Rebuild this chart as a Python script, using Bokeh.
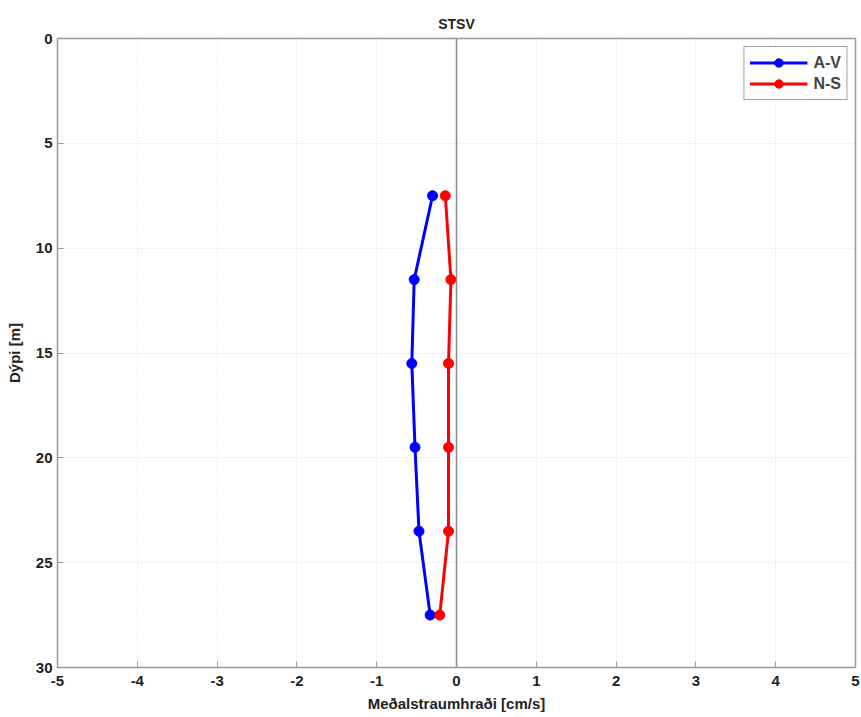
from bokeh.plotting import figure
from bokeh.models import Range1d, Span, FixedTicker, Legend, LegendItem
from bokeh.embed import file_html
from bokeh.resources import INLINE

depth = [7.5, 11.5, 15.5, 19.5, 23.5, 27.5]
av = [-0.30, -0.53, -0.56, -0.52, -0.47, -0.33]
ns = [-0.14, -0.07, -0.10, -0.10, -0.10, -0.21]
x_ticks = [-5, -4, -3, -2, -1, 0, 1, 2, 3, 4, 5]
y_ticks = [0, 5, 10, 15, 20, 25, 30]

FONT = "Liberation Sans"

p = figure(width=861, height=717, output_backend="svg", toolbar_location=None,
           x_range=Range1d(-5, 5), y_range=Range1d(30, 0),
           title="STSV", min_border_left=57, min_border_right=6,
           min_border_bottom=50, min_border_top=38)

p.title.text_font = FONT
p.title.text_font_style = "bold"
p.title.text_font_size = "14px"
p.title.align = "center"
p.title.text_color = "#222222"
p.title.standoff = 14

p.xaxis.ticker = FixedTicker(ticks=x_ticks)
p.yaxis.ticker = FixedTicker(ticks=y_ticks)
p.xaxis.major_label_overrides = {t: str(t) for t in x_ticks}
p.yaxis.major_label_overrides = {t: str(t) for t in y_ticks}
p.xaxis.axis_label = "Meðalstraumhraði [cm/s]"
p.yaxis.axis_label = "Dýpi [m]"
for ax in (p.xaxis[0], p.yaxis[0]):
    ax.axis_label_text_font = FONT
    ax.axis_label_text_font_style = "bold"
    ax.axis_label_text_font_size = "15px"
    ax.axis_label_text_color = "#222222"
    ax.major_label_text_font = FONT
    ax.major_label_text_font_style = "bold"
    ax.major_label_text_font_size = "15px"
    ax.major_label_text_color = "#222222"
    ax.axis_line_color = "#999999"
    ax.major_tick_line_color = "#999999"
    ax.major_tick_in = 6
    ax.major_tick_out = 0
    ax.minor_tick_line_color = None
p.xaxis.major_label_standoff = 8
p.xaxis.axis_label_standoff = 6
p.yaxis.major_label_standoff = 5
p.yaxis.axis_label_standoff = 10

p.grid.grid_line_color = "#dcdcdc"
p.grid.grid_line_dash = "1 2"
p.outline_line_color = "#999999"
p.outline_line_width = 1.5

p.add_layout(Span(location=0, dimension="height", line_color="#888888", line_width=1.5))

l1 = p.line(av, depth, line_color="#0000ff", line_width=3)
s1 = p.scatter(av, depth, fill_color="#0000ff", line_color="#0000ff", size=10)
l2 = p.line(ns, depth, line_color="#ff0000", line_width=3)
s2 = p.scatter(ns, depth, fill_color="#ff0000", line_color="#ff0000", size=10)

legend = Legend(items=[LegendItem(label="A-V", renderers=[l1, s1]),
                       LegendItem(label="N-S", renderers=[l2, s2])],
                location="top_right")
legend.label_text_font = FONT
legend.label_text_font_style = "bold"
legend.label_text_font_size = "16px"
legend.border_line_color = "#444444"
legend.border_line_width = 1
legend.glyph_width = 58
legend.spacing = 0
legend.padding = 5
legend.margin = 8
legend.label_height = 21
legend.glyph_height = 21
legend.label_standoff = 6
p.add_layout(legend)

open("out.html", "w").write(file_html(p, INLINE))
